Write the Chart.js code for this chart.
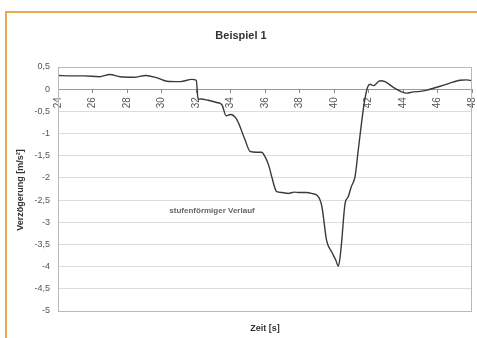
<!DOCTYPE html>
<html>
<head>
<meta charset="utf-8">
<script src="https://cdn.jsdelivr.net/npm/chart.js@4/dist/chart.umd.min.js"></script>
<style>
  body { margin: 0; background: #fff; }
  #wrap { position: relative; width: 477px; height: 338px; overflow: hidden; }
  #frame { position: absolute; left: 5px; top: 11px; width: 480px; height: 340px;
           border-top: 2px solid #e9a84a; border-left: 2px solid #e9a84a; }
  canvas { position: absolute; left: 0; top: 0; }
</style>
</head>
<body>
<div id="wrap">
  <div id="frame"></div>
  <canvas id="c" width="477" height="338"></canvas>
</div>
<script>
// Zeit [s]
const zeit = [24, 24.7, 25.5, 26.4, 27.0, 27.6, 28.4, 29.1, 29.7, 30.3, 31.1, 31.75, 32.02, 32.12,
  32.3, 32.7, 33.2, 33.5, 33.75, 34.0, 34.36, 34.84, 35.13, 35.5, 35.8, 36.0, 36.2, 36.39, 36.55,
  36.68, 37.0, 37.35, 37.7, 38.03, 38.4, 38.7, 39.09, 39.3, 39.57, 39.87, 40.1, 40.25, 40.35,
  40.45, 40.64, 40.83, 41.0, 41.22, 41.41, 41.7, 41.8, 41.95, 42.1, 42.28, 42.67, 42.96, 43.44,
  43.92, 44.2, 44.6, 45.0, 45.4, 45.76, 46.1, 46.5, 46.9, 47.3, 47.7, 48];
// Verzoegerung [m/s²]
const verz = [0.31, 0.30, 0.30, 0.28, 0.33, 0.28, 0.27, 0.31, 0.26, 0.18, 0.17, 0.22, 0.20, -0.23,
  -0.22, -0.25, -0.30, -0.35, -0.60, -0.57, -0.68, -1.14, -1.40, -1.42, -1.42, -1.52, -1.70, -1.97,
  -2.20, -2.31, -2.33, -2.35, -2.32, -2.33, -2.33, -2.35, -2.42, -2.65, -3.41, -3.67, -3.85, -3.99,
  -3.80, -3.41, -2.58, -2.42, -2.20, -1.97, -1.36, -0.45, -0.20, 0.05, 0.11, 0.08, 0.19, 0.17, 0.04,
  -0.06, -0.09, -0.06, -0.05, -0.02, 0.02, 0.06, 0.11, 0.16, 0.20, 0.21, 0.19];

const xMin = 24, xMax = 48, xStep = 2;
const yMin = -5, yMax = 0.5, yStep = 0.5;

const titel = 'Beispiel 1';
const xTitel = 'Zeit [s]';
const yTitel = 'Verzögerung [m/s²]';
const notiz = 'stufenförmiger Verlauf';

const points = zeit.map((t, i) => ({ x: t, y: verz[i] }));

// Rahmen, Titel und Beschriftungen
const extras = {
  id: 'extras',
  afterDraw(chart) {
    const { ctx, chartArea: a } = chart;
    ctx.save();
    ctx.strokeStyle = '#b8b8b8';
    ctx.lineWidth = 1;
    ctx.strokeRect(a.left + 0.5, a.top + 0.5, a.right - a.left - 1, a.bottom - a.top);

    ctx.fillStyle = '#333';
    ctx.textAlign = 'center';
    ctx.textBaseline = 'middle';
    ctx.font = 'bold 11px "Liberation Sans", Arial, sans-serif';
    ctx.fillText(titel, 241, 36);

    ctx.font = 'bold 9px "Liberation Sans", Arial, sans-serif';
    ctx.fillText(xTitel, (a.left + a.right) / 2, 329);

    ctx.save();
    ctx.translate(21, 190);
    ctx.rotate(-Math.PI / 2);
    ctx.fillText(yTitel, 0, 0);
    ctx.restore();

    ctx.fillStyle = '#666';
    ctx.font = 'bold 8px "Liberation Sans", Arial, sans-serif';
    ctx.fillText(notiz, 212, 211);
    ctx.restore();
  }
};

new Chart(document.getElementById('c'), {
  type: 'line',
  data: {
    datasets: [{
      data: points,
      borderColor: '#3a3a3a',
      borderWidth: 1.4,
      pointRadius: 0,
      cubicInterpolationMode: 'monotone',
      fill: false
    }]
  },
  options: {
    responsive: false,
    animation: false,
    layout: { padding: { top: 67, bottom: 27, right: 5, left: 0 } },
    plugins: { legend: { display: false }, tooltip: { enabled: false } },
    scales: {
      x: {
        type: 'linear',
        position: { y: 0 },
        min: xMin, max: xMax,
        afterFit(scale) { scale.paddingLeft = 0; scale.paddingRight = 0; },
        grid: { display: true, drawOnChartArea: false, drawTicks: true, tickLength: 3, color: '#888' },
        border: { display: true, color: '#999', width: 1 },
        ticks: {
          stepSize: xStep, minRotation: 90, maxRotation: 90, padding: 5,
          color: '#555', font: { size: 10, family: '"Liberation Sans", Arial, sans-serif' }
        }
      },
      y: {
        min: yMin, max: yMax,
        afterFit(scale) { scale.width = 58; },
        grid: { color: '#dcdcdc', drawTicks: false },
        border: { display: true, color: '#b8b8b8' },
        ticks: {
          stepSize: yStep, padding: 8,
          color: '#555', font: { size: 9, family: '"Liberation Sans", Arial, sans-serif' },
          callback: v => String(v).replace('.', ',')
        }
      }
    }
  },
  plugins: [extras]
});
</script>
</body>
</html>
